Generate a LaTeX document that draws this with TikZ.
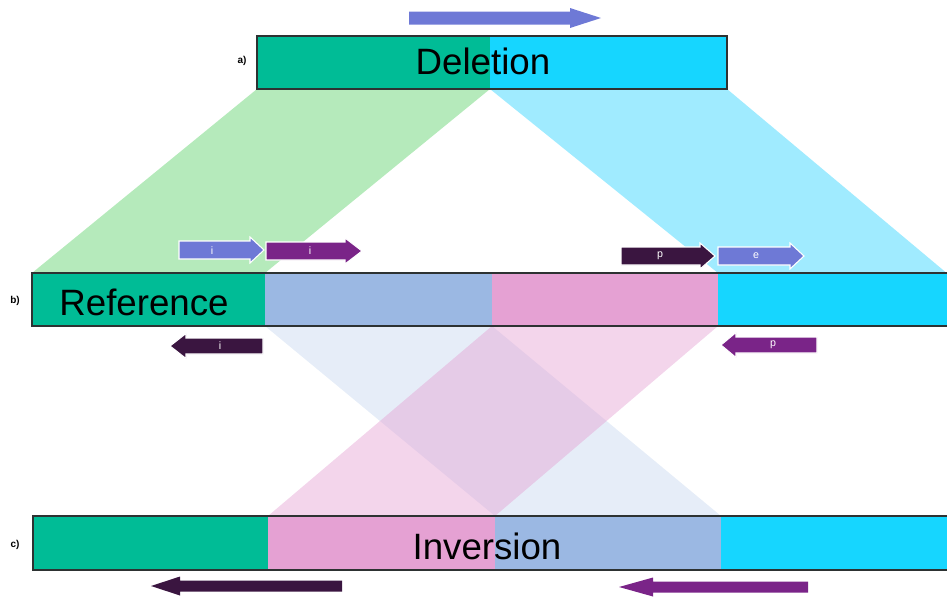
\documentclass[tikz,border=0pt]{standalone}
\usepackage{fontspec}
\setmainfont{Liberation Sans}
\definecolor{segGreen}{RGB}{0,188,150}
\definecolor{segCyan}{RGB}{22,214,255}
\definecolor{segBlue}{RGB}{155,184,227}
\definecolor{segPink}{RGB}{229,161,211}
\definecolor{lightGreen}{RGB}{181,234,187}
\definecolor{lightCyan}{RGB}{160,235,255}
\definecolor{arrBlue}{RGB}{110,121,214}
\definecolor{arrPurple}{RGB}{122,36,136}
\definecolor{arrDark}{RGB}{58,21,64}
\definecolor{barEdge}{RGB}{45,50,50}
% block arrow: tail x, head base x, tip x, centre y, shaft half-height, head half-height, style
\newcommand\blockarrow[7]{%
  \path[#7] ({#1},{#4-#5}) -- ({#2},{#4-#5}) -- ({#2},{#4-#6}) -- ({#3},{#4})
    -- ({#2},{#4+#6}) -- ({#2},{#4+#5}) -- ({#1},{#4+#5}) -- cycle;}
\tikzset{
  baredge/.style={draw=barEdge, line width=1.6pt},
  bigtext/.style={font=\fontsize{27.5}{30}\selectfont, inner sep=0pt},
  tag/.style={font=\bfseries\fontsize{7.5}{8}\selectfont, inner sep=0pt},
  arrtext/.style={font=\fontsize{8}{9}\selectfont, text=white, inner sep=0pt},
  glow/.style={draw=white, line width=0.8pt},
}
\begin{document}
\begin{tikzpicture}[x=0.75pt,y=-0.75pt]
\useasboundingbox (0,0) rectangle (947,597);

% projections from the deletion onto the reference
\fill[lightGreen] (257,89) -- (490,89) -- (265,273) -- (32,273) -- cycle;
\fill[lightCyan] (490,89) -- (727,89) -- (955,280) -- (955,273) -- (718,273) -- cycle;

% crossing projections from the reference onto the inversion
\fill[segBlue, fill opacity=0.25] (265,326) -- (492,326) -- (721,516) -- (495,516) -- cycle;
\fill[segPink, fill opacity=0.45] (492,326) -- (718,326) -- (495,516) -- (268,516) -- cycle;

% a) deletion bar
\fill[segGreen] (257,36) rectangle (490,89);
\fill[segCyan] (490,36) rectangle (727,89);
\draw[baredge] (257,36) rectangle (727,89);
\node[bigtext] (deltext) at (483,61) {Deletion};
\node[tag] (taga) at (242,61) {a)};

% b) reference bar
\fill[segGreen] (32,273) rectangle (265,326);
\fill[segBlue] (265,273) rectangle (492,326);
\fill[segPink] (492,273) rectangle (718,326);
\fill[segCyan] (718,273) rectangle (955,326);
\draw[baredge] (955,273) -- (32,273) -- (32,326) -- (955,326);
\node[bigtext] (reftext) at (144,302) {Reference};
\node[tag] (tagb) at (15,301) {b)};

% c) inversion bar
\fill[segGreen] (33,516) rectangle (268,570);
\fill[segPink] (268,516) rectangle (495,570);
\fill[segBlue] (495,516) rectangle (721,570);
\fill[segCyan] (721,516) rectangle (955,570);
\draw[baredge] (955,516) -- (33,516) -- (33,570) -- (955,570);
\node[bigtext] (invtext) at (487,546) {Inversion};
\node[tag] (tagc) at (15,545) {c)};

% arrow above the deletion
\blockarrow{409}{570}{601}{18}{6.5}{10}{fill=arrBlue}

% primers above the reference
\blockarrow{179}{250}{264}{250}{9}{13}{fill=arrBlue, glow}
\node[arrtext] (pi1) at (212,251) {i};
\blockarrow{266}{345}{362}{251}{9}{13}{fill=arrPurple, glow}
\node[arrtext] (pi2) at (310,251) {i};
\blockarrow{621}{700}{715}{256}{9}{13}{fill=arrDark, glow}
\node[arrtext] (pp1) at (660,256) {p};
\blockarrow{718}{790}{804}{256}{9}{13}{fill=arrBlue, glow}
\node[arrtext] (pe1) at (756,256) {e};

% primers below the reference
\blockarrow{263}{186}{170}{346}{8}{12.5}{fill=arrDark, glow}
\node[arrtext] (pi3) at (220,346) {i};
\blockarrow{817}{736}{721}{345}{8}{12.5}{fill=arrPurple, glow}
\node[arrtext] (pp2) at (773,345) {p};

% long arrows below the inversion
\blockarrow{342}{180}{151}{586}{5.5}{9.5}{fill=arrDark}
\blockarrow{808}{653}{619}{587}{5.5}{9.5}{fill=arrPurple}
\end{tikzpicture}
\end{document}
